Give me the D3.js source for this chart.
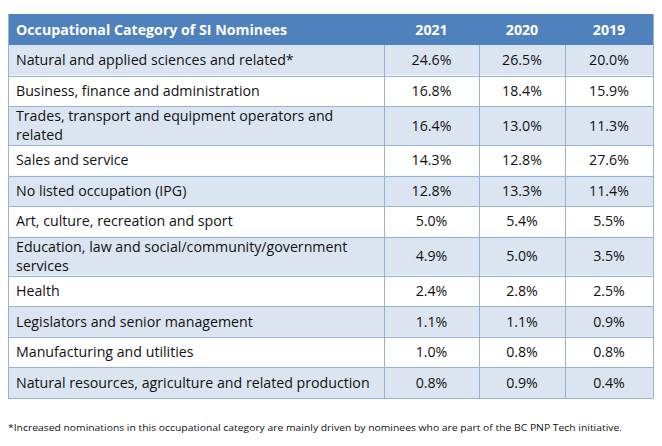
<!DOCTYPE html>
<html><head><meta charset="utf-8">
<script src="https://cdn.jsdelivr.net/npm/d3@7"></script>
<style>html,body{margin:0;padding:0;background:#fff;}</style>
</head><body>
<svg id="c" width="662" height="446"></svg>
<script>
const headerTitle = "Occupational Category of SI Nominees";
const years = ["2021", "2020", "2019"];
const categories = [
  ["Natural and applied sciences and related*"],
  ["Business, finance and administration"],
  ["Trades, transport and equipment operators and", "related"],
  ["Sales and service"],
  ["No listed occupation (IPG)"],
  ["Art, culture, recreation and sport"],
  ["Education, law and social/community/government", "services"],
  ["Health"],
  ["Legislators and senior management"],
  ["Manufacturing and utilities"],
  ["Natural resources, agriculture and related production"]
];
const values2021 = [24.6, 16.8, 16.4, 14.3, 12.8, 5.0, 4.9, 2.4, 1.1, 1.0, 0.8];
const values2020 = [26.5, 18.4, 13.0, 12.8, 13.3, 5.4, 5.0, 2.8, 1.1, 0.8, 0.9];
const values2019 = [20.0, 15.9, 11.3, 27.6, 11.4, 5.5, 3.5, 2.5, 0.9, 0.8, 0.4];
const footnote = "*Increased nominations in this occupational category are mainly driven by nominees who are part of the BC PNP Tech initiative.";

const svg = d3.select("#c");
const font = "'Open Sans', 'Noto Sans', sans-serif";
const fs = 14.2;
const series = [values2021, values2020, values2019];

const colEdges = [8, 384, 479, 565, 653];
const x = d3.scaleOrdinal().domain(["label", ...years]).range([0,1,2,3]);

const rowUnits = categories.map(c => c.length === 1 ? 30.6 : 39);
const cum = [0];
rowUnits.forEach(u => cum.push(cum[cum.length-1] + u));
const y = d3.scaleLinear().domain([0, cum[cum.length-1]]).range([45, 398]);

const headerColor = "#4f81bd", band = "#dbe5f1", border = "#95b3d7", ink = "#111";

svg.append("rect").attr("x", colEdges[0]).attr("y", 14).attr("width", colEdges[4]-colEdges[0]).attr("height", 31).attr("fill", headerColor);
svg.append("text").attr("x", 16).attr("y", 30).attr("dy", "0.35em")
  .attr("font-family", font).attr("font-size", fs).attr("font-weight", "bold").attr("fill", "#fff").text(headerTitle);
years.forEach((yr, i) => {
  const c = x(yr);
  svg.append("text").attr("x", (colEdges[c]+colEdges[c+1])/2).attr("y", 30).attr("dy", "0.35em")
    .attr("text-anchor", "middle").attr("font-family", font).attr("font-size", fs).attr("font-weight", "bold").attr("fill", "#fff").text(yr);
});

const rows = svg.selectAll("g.row").data(categories).join("g").attr("class", "row");
rows.append("rect").attr("x", colEdges[0]).attr("y", (d,i) => y(cum[i]))
  .attr("width", colEdges[4]-colEdges[0]).attr("height", (d,i) => y(cum[i+1]) - y(cum[i]))
  .attr("fill", (d,i) => i % 2 === 0 ? band : "#fff");
rows.each(function(d, i) {
  const g = d3.select(this);
  const top = y(cum[i]), bot = y(cum[i+1]), mid = (top+bot)/2;
  const t = g.append("text").attr("font-family", font).attr("font-size", fs).attr("fill", ink);
  if (d.length === 1) {
    t.append("tspan").attr("x", 16).attr("y", mid).attr("dy", "0.35em").text(d[0]);
  } else {
    t.append("tspan").attr("x", 16).attr("y", mid - 9.5).attr("dy", "0.35em").text(d[0]);
    t.append("tspan").attr("x", 16).attr("y", mid + 9.5).attr("dy", "0.35em").text(d[1]);
  }
  years.forEach((yr, k) => {
    const c = x(yr);
    g.append("text").attr("x", (colEdges[c]+colEdges[c+1])/2).attr("y", mid).attr("dy", "0.35em")
      .attr("text-anchor", "middle").attr("font-family", font).attr("font-size", fs).attr("fill", ink)
      .text(d3.format(".1f")(series[k][i]) + "%");
  });
});

const hlines = cum.slice(1);
svg.selectAll("line.h").data(hlines).join("line").attr("class","h")
  .attr("x1", colEdges[0]).attr("x2", colEdges[4]).attr("y1", d => Math.round(y(d))+0.5).attr("y2", d => Math.round(y(d))+0.5)
  .attr("stroke", border).attr("stroke-width", 1);
svg.selectAll("line.v").data(colEdges).join("line").attr("class","v")
  .attr("x1", d => d+0.5).attr("x2", d => d+0.5).attr("y1", (d,i) => (i===0||i===4) ? 14 : 45).attr("y2", 398)
  .attr("stroke", border).attr("stroke-width", 1);

svg.append("text").attr("x", 8).attr("y", 428).attr("dy", "0.35em")
  .attr("font-family", "'Open Sans', sans-serif").attr("font-size", 9.6)
  .attr("fill", ink).attr("textLength", 614).attr("lengthAdjust", "spacingAndGlyphs").text(footnote);
</script>
</body></html>
